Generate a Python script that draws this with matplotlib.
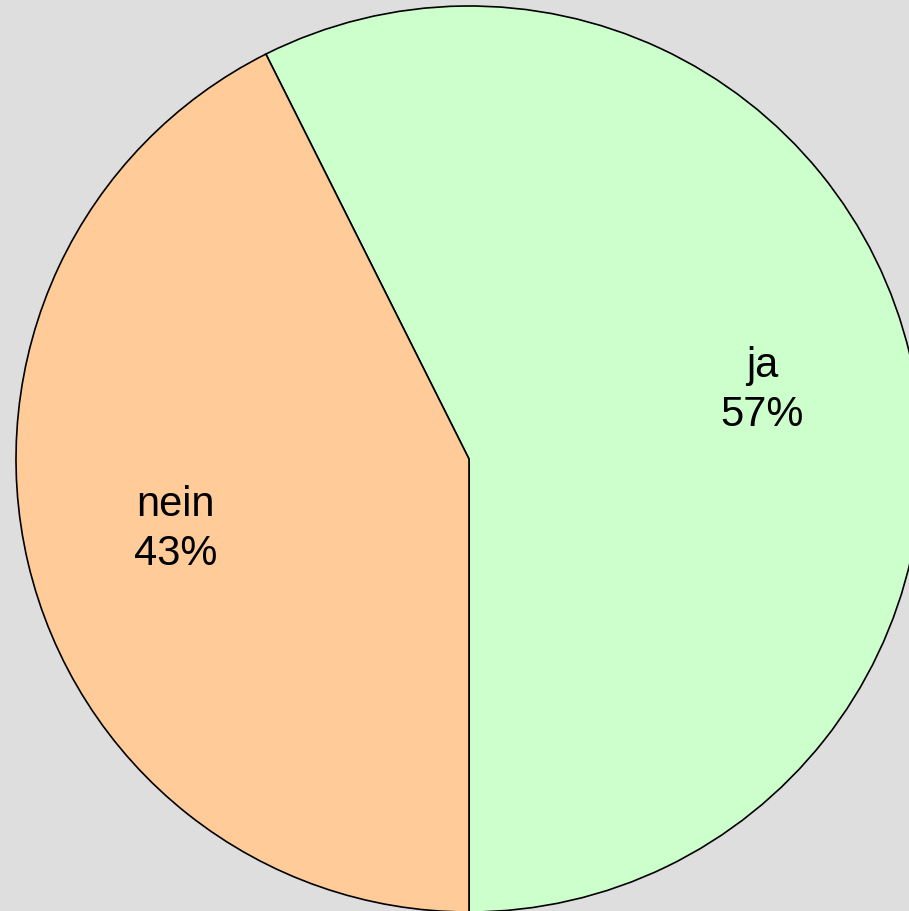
import matplotlib.pyplot as plt

plt.rcParams['font.family'] = ['Liberation Sans', 'DejaVu Sans']

labels = ['ja', 'nein']
values = [57.4, 42.6]
colors = ['#ccffcc', '#ffcc99']

fig = plt.figure(figsize=(9.09, 9.12), dpi=100, facecolor='#dedede')
# pie centre at (469, 460) px, radius 453 px
ax = fig.add_axes([(469 - 453) / 909, (912 - 460 - 453) / 912, 906 / 909, 906 / 912])
ax.set_facecolor('none')

wedges, texts = ax.pie(values, labels=[f'{l}\n{round(v)}%' for l, v in zip(labels, values)],
                       colors=colors, startangle=270, counterclock=True,
                       labeldistance=0.665, radius=1.0,
                       wedgeprops=dict(edgecolor='black', linewidth=1.2),
                       textprops=dict(fontsize=30, color='black'))
for t in texts:
    t.set_ha('center')
    t.set_va('center')
    t.set_linespacing(1.3)
for w in wedges:
    w.set_clip_on(False)

ax.set_xlim(-1, 1)
ax.set_ylim(-1, 1)
ax.set_aspect('equal')
ax.axis('off')

fig.savefig('out.png', dpi=100, facecolor=fig.get_facecolor())
